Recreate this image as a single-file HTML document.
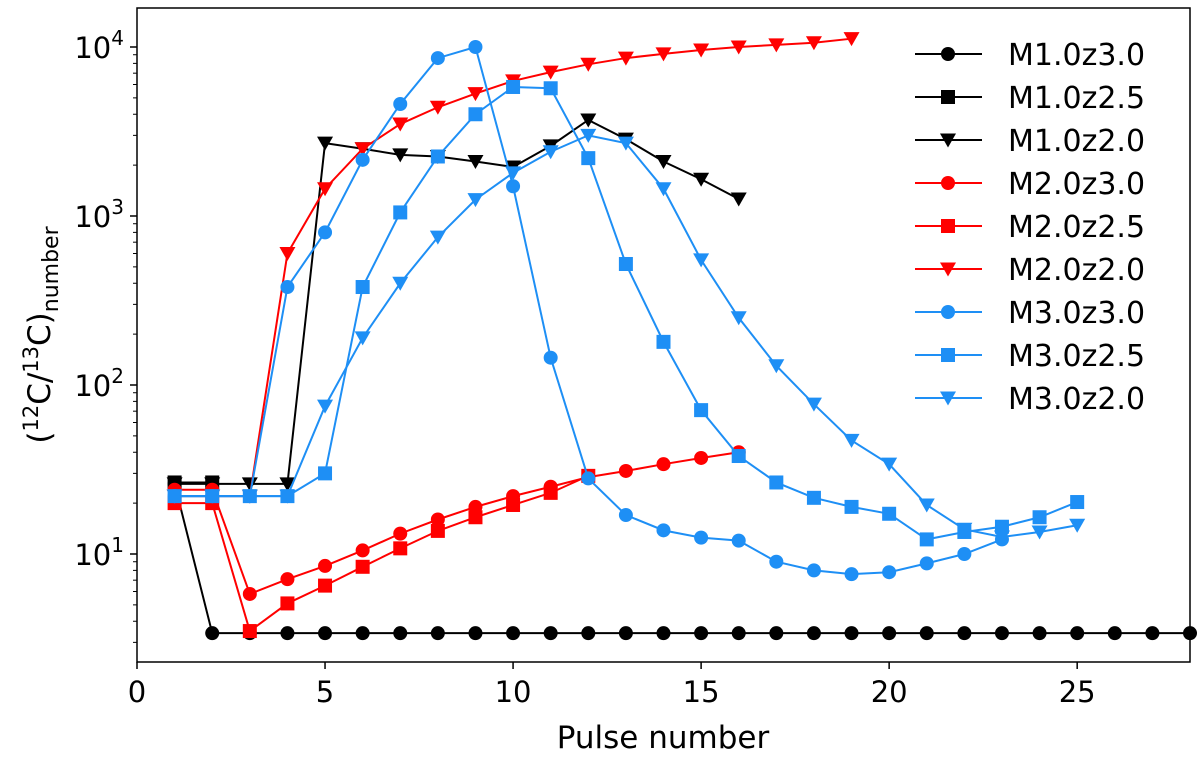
<!DOCTYPE html>
<html><head><meta charset="utf-8"><style>
body{margin:0;background:#fff}
svg text{font-family:"DejaVu Sans","Liberation Sans",sans-serif;fill:#000}
</style></head><body>
<svg id="chart" width="1200" height="757" xmlns="http://www.w3.org/2000/svg">
<g id="marks"></g>
<rect x="137" y="8" width="1053" height="654" fill="none" stroke="#000" stroke-width="1.5"/>
<g id="axes"></g>
<text x="663" y="748" font-size="31" text-anchor="middle">Pulse number</text>
<text transform="translate(50,335) rotate(-90)" font-size="31" text-anchor="middle">(<tspan font-size="21" dy="-12">12</tspan><tspan dy="12">C/</tspan><tspan font-size="21" dy="-12">13</tspan><tspan dy="12">C)</tspan><tspan font-size="22" dy="8">number</tspan></text>
<g id="legend"></g>
</svg>
<script>
const names=["M1.0z3.0","M1.0z2.5","M1.0z2.0","M2.0z3.0","M2.0z2.5","M2.0z2.0","M3.0z3.0","M3.0z2.5","M3.0z2.0"];
const colors=["#000","#000","#000","#ff0000","#ff0000","#ff0000","#1e8ff5","#1e8ff5","#1e8ff5"];
const markers=["circle","square","tri","circle","square","tri","circle","square","tri"];
const s_m1z30=[26,3.4,3.4,3.4,3.4,3.4,3.4,3.4,3.4,3.4,3.4,3.4,3.4,3.4,3.4,3.4,3.4,3.4,3.4,3.4,3.4,3.4,3.4,3.4,3.4,3.4,3.4,3.4];
const s_m1z25=[26.5,26.5];
const s_m1z20=[26,26,26,26,2700,2500,2300,2250,2100,1950,2600,3700,2850,2100,1650,1260];
const s_m2z30=[24,24,5.8,7.1,8.5,10.5,13.2,16,19,22,25,28.5,31,34,37,40];
const s_m2z25=[20,20,3.5,5.1,6.5,8.4,10.8,13.7,16.5,19.5,23,29];
const s_m2z20=[22,22,22,600,1450,2500,3500,4400,5300,6300,7100,7900,8600,9100,9600,10000,10300,10600,11200];
const s_m3z30=[22,22,22,380,800,2150,4600,8600,10000,1500,145,28,17,13.8,12.5,12,9,8,7.6,7.8,8.8,10,12.2];
const s_m3z25=[22,22,22,22,30,380,1050,2250,4000,5800,5700,2200,520,180,71,38,26.5,21.5,19,17.3,12.2,13.5,14.5,16.5,20.3];
const s_m3z20=[22,22,22,22,75,190,400,750,1250,1800,2400,3000,2700,1450,550,250,130,77,47,34,19.5,14,12.6,13.5,14.8];
const series=[s_m1z30,s_m1z25,s_m1z20,s_m2z30,s_m2z25,s_m2z20,s_m3z30,s_m3z25,s_m3z20];
const xTicks=[0,5,10,15,20,25];
const yTicks=[1,2,3,4];
const NS="http://www.w3.org/2000/svg";
const X=v=>137+v*1053/28;
const Y=v=>554-(Math.log10(v)-1)*169;
function mk(tag,at,parent){const e=document.createElementNS(NS,tag);for(const k in at)e.setAttribute(k,at[k]);parent.appendChild(e);return e;}
function marker(type,x,y,c,parent){
  if(type==="circle")return mk("circle",{cx:x,cy:y,r:7,fill:c},parent);
  if(type==="square")return mk("rect",{x:x-7,y:y-7,width:14,height:14,fill:c},parent);
  return mk("polygon",{points:`${x-8},${y-6.5} ${x+8},${y-6.5} ${x},${y+7.5}`,fill:c},parent);
}
const gm=document.getElementById("marks");
series.forEach((s,i)=>{
  const g=mk("g",{},gm);
  
  
  const pts=s.map((v,j)=>X(j+1)+","+Y(v)).join(" ");
  const pl=mk("polyline",{points:pts,fill:"none",stroke:colors[i],"stroke-width":2},g);
  
  
  s.forEach((v,j)=>{
    const m=marker(markers[i],X(j+1),Y(v),colors[i],g);
    
    
  });
});
const ga=document.getElementById("axes");
xTicks.forEach(t=>{
  mk("line",{x1:X(t),x2:X(t),y1:662,y2:669,stroke:"#000","stroke-width":1.5},ga);
  const tx=mk("text",{x:X(t),y:702,"font-size":29,"text-anchor":"middle"},ga);
  tx.textContent=t;
  
  
});
yTicks.forEach(t=>{
  const y=Y(Math.pow(10,t));
  mk("line",{x1:130,x2:137,y1:y,y2:y,stroke:"#000","stroke-width":1.5},ga);
  const tx=mk("text",{x:124,y:y+11,"font-size":29,"text-anchor":"end"},ga);
  tx.innerHTML='10<tspan font-size="20" dy="-13">'+t+'</tspan>';
  
  
});
for(let d=0;d<4;d++)for(let k=2;k<10;k++){
  const v=k*Math.pow(10,d);const y=Y(v);
  if(y<8||y>662)continue;
  mk("line",{x1:133,x2:137,y1:y,y2:y,stroke:"#000","stroke-width":1},ga);
}
const gl=document.getElementById("legend");
names.forEach((n,i)=>{
  const y=54+i*43;
  const g=mk("g",{},gl);
  
  
  mk("line",{x1:915,x2:982,y1:y,y2:y,stroke:colors[i],"stroke-width":2},g);
  marker(markers[i],948,y,colors[i],g);
  const t=mk("text",{x:1008,y:y+11,"font-size":30},g);
  t.textContent=n;
});
</script>
</body></html>
